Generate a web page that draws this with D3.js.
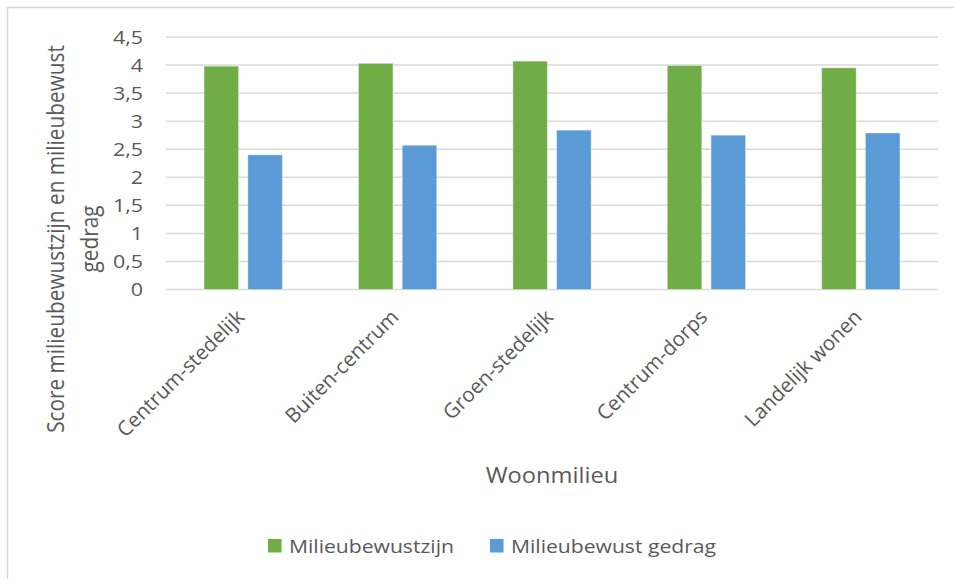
<!DOCTYPE html>
<html><head><meta charset="utf-8">
<script src="https://cdn.jsdelivr.net/npm/d3@7"></script>
<style>body{margin:0;background:#fff}svg{display:block}text{font-family:"Open Sans",sans-serif;fill:#595959}</style>
</head><body>
<script>
const categories = ["Centrum-stedelijk","Buiten-centrum","Groen-stedelijk","Centrum-dorps","Landelijk wonen"];
const seriesNames = ["Milieubewustzijn","Milieubewust gedrag"];
const milieubewustzijn = [3.98, 4.03, 4.07, 3.99, 3.95];
const gedrag = [2.40, 2.57, 2.84, 2.75, 2.79];
const yTicks = [0,0.5,1,1.5,2,2.5,3,3.5,4,4.5];
const colors = ["#70ad47","#5b9bd5"];

(function(){
const W=954,H=579, SX=1.13;
const svg=d3.select("body").append("svg").attr("width",W).attr("height",H);
svg.append("path").attr("d","M7.5,579 V7.5 H954").attr("fill","none").attr("stroke","#d9d9d9").attr("stroke-width",1.5);

const pl=166,pr=938,pt=37,pb=289.5;
const x=d3.scaleBand().domain(categories).range([pl,pr]).paddingInner(0).paddingOuter(0);
const y=d3.scaleLinear().domain([0,4.5]).range([pb,pt]);
const step=x.bandwidth();
const bw=step*0.2235, gap=step*0.06;

svg.append("g").selectAll("line").data(yTicks).join("line")
 .attr("x1",pl).attr("x2",pr).attr("y1",d=>y(d)).attr("y2",d=>y(d))
 .attr("stroke","#d9d9d9").attr("stroke-width",1.5);

svg.append("g").selectAll("text").data(yTicks).join("text")
 .attr("transform",d=>`translate(143,${y(d)}) scale(${SX},1)`)
 .attr("dy","0.36em").attr("text-anchor","end")
 .style("font-size","19px").text(d=>String(d).replace(".",","));

const series=[milieubewustzijn,gedrag];
series.forEach((vals,si)=>{
  svg.append("g").selectAll("rect").data(vals).join("rect")
   .attr("x",(d,i)=>x(categories[i])+step/2+(si===0?-gap/2-bw:gap/2))
   .attr("width",bw)
   .attr("y",d=>y(d)).attr("height",d=>y(0)-y(d))
   .attr("fill",colors[si]).attr("stroke","#fff").attr("stroke-opacity",0.35).attr("stroke-width",1);
});

svg.append("g").selectAll("text").data(categories).join("text")
 .attr("transform",d=>`translate(${x(d)+step/2-8},${308}) rotate(-45)`)
 .attr("text-anchor","end").attr("dy","0.71em")
 .style("font-size","20.5px").text(d=>d);

svg.append("text").attr("transform",`translate(${(pl+pr)/2},483) scale(${SX},1)`).attr("text-anchor","middle")
 .style("font-size","21px").text("Woonmilieu");
const yt=svg.append("text").attr("transform",`translate(0,239) scale(${SX},1) rotate(-90)`).attr("text-anchor","middle").style("font-size","20.8px");
yt.append("tspan").attr("x",0).attr("y",56.5).text("Score milieubewustzijn en milieubewust");
yt.append("tspan").attr("x",0).attr("y",86.5).text("gedrag");

const leg=[{x:268,name:seriesNames[0],c:colors[0]},{x:490,name:seriesNames[1],c:colors[1]}];
leg.forEach(l=>{
  svg.append("rect").attr("x",l.x).attr("y",539).attr("width",13.5).attr("height",13.5).attr("fill",l.c);
  svg.append("text").attr("transform",`translate(${l.x+21},552.5) scale(${SX},1)`).style("font-size","18.7px").text(l.name);
});
})();
</script>
</body></html>
